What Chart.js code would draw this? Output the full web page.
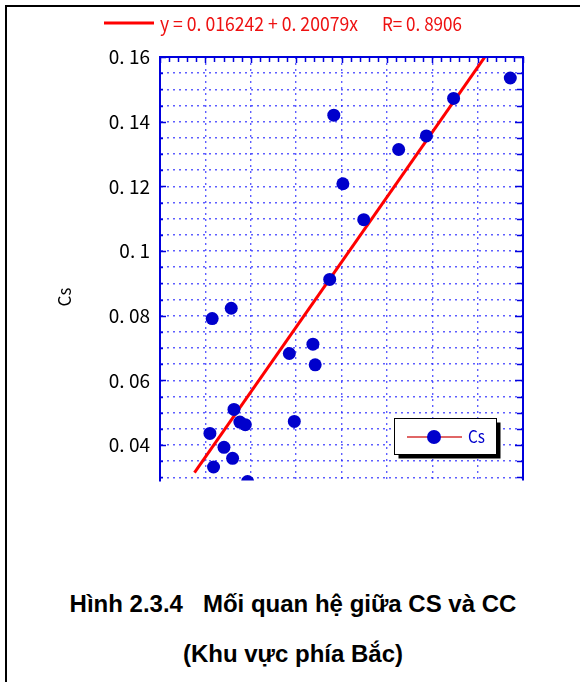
<!DOCTYPE html>
<html><head><meta charset="utf-8">
<script src="https://cdn.jsdelivr.net/npm/chart.js@4.4.0/dist/chart.umd.min.js"></script>
<style>
html,body{margin:0;padding:0;background:#fff;width:580px;height:682px;overflow:hidden;position:relative}
#frame{position:absolute;left:5px;top:5px;width:700px;height:700px;border-left:2px solid #000;border-top:2px solid #000}
#wrap{position:absolute;left:0;top:0;width:580px;height:482px;overflow:hidden}
.cap{position:absolute;left:0;width:586px;text-align:center;font:bold 24px "Liberation Sans",Arial,sans-serif;line-height:50px;white-space:pre;color:#000}
</style></head><body>
<div id="frame"></div>
<div id="wrap"><canvas id="c" width="580" height="502"></canvas></div>
<div class="cap" style="top:579px">Hình 2.3.4   Mối quan hệ giữa CS và CC</div>
<div class="cap" style="top:629px">(Khu vực phía Bắc)</div>
<script>
// ---- data ----
const ccValues = [0.110, 0.115, 0.118, 0.141, 0.157, 0.160, 0.163, 0.176, 0.188, 0.193, 0.285, 0.296, 0.337, 0.342, 0.374, 0.383, 0.403, 0.449, 0.526, 0.587, 0.647, 0.772];
const csValues = [0.0436, 0.0791, 0.0332, 0.0393, 0.0823, 0.0359, 0.0510, 0.0471, 0.0463, 0.0287, 0.0683, 0.0473, 0.0712, 0.0648, 0.0912, 0.1420, 0.1208, 0.1097, 0.1314, 0.1356, 0.1472, 0.1535];
const fitX = [0.076, 0.80];
const fitY = [0.0315, 0.1769];
const yLabelValues = [0.04, 0.06, 0.08, 0.1, 0.12, 0.14, 0.16];
const xGridValues = [0, 0.1, 0.2, 0.3, 0.4, 0.5, 0.6, 0.7, 0.8];
const seriesName = 'Cs';
const yTitle = 'Cs';
const fitLabel = 'y = 0. 016242 + 0. 20079x';
const rLabel = 'R= 0. 8906';

// ---- styles ----
const CJK = '"Noto Sans CJK JP","Noto Sans",sans-serif';
const pointBlue = '#0000cc';
const axisBlue = '#0000dd';
const gridBlue = 'rgba(40,40,255,0.75)';
const yGrid = [];
for (let k = 6; k <= 32; k++) yGrid.push(Math.round(k * 5) / 1000);

function fmt(v){ return String(+v.toFixed(3)).replace('.', '. '); }

function scaledText(ctx, text, x, y, targetW){
  const w = ctx.measureText(text).width;
  ctx.save(); ctx.translate(x, y); ctx.scale(targetW / w, 1); ctx.fillText(text, 0, 0); ctx.restore();
}

const decor = {
  id: 'decor',
  afterDatasetsDraw(chart){
    const {ctx, chartArea: a, scales: {x, y}} = chart;
    ctx.save();
    // frame top & right
    ctx.strokeStyle = axisBlue; ctx.lineWidth = 2;
    ctx.beginPath();
    ctx.moveTo(a.left - 1, a.top); ctx.lineTo(a.right + 1, a.top);
    ctx.moveTo(a.right, a.top); ctx.lineTo(a.right, a.bottom);
    ctx.stroke();
    // inward ticks
    ctx.lineWidth = 1.5;
    ctx.beginPath();
    for (let i = 0; i <= 40; i++) {
      const px = Math.round(x.getPixelForValue(i * 0.02)) + 0.5;
      const len = (i % 5 === 0) ? 6 : 5;
      ctx.moveTo(px, a.top); ctx.lineTo(px, a.top + len);
    }
    yGrid.forEach(v => {
      const py = Math.round(y.getPixelForValue(v)) + 0.5;
      const major = yLabelValues.some(l => Math.abs(l - v) < 1e-9);
      ctx.moveTo(a.left, py); ctx.lineTo(a.left + (major ? 6 : 3), py);
      ctx.moveTo(a.right, py); ctx.lineTo(a.right - (major ? 8 : 6), py);
    });
    ctx.stroke();

    // legend box inside plot
    const bx = 394.5, by = 418.5, bw = 102, bh = 36;
    ctx.fillStyle = '#000';
    ctx.fillRect(bx + 4, by + 4, bw, bh);
    ctx.fillStyle = '#fff';
    ctx.fillRect(bx, by, bw, bh);
    ctx.strokeStyle = '#000'; ctx.lineWidth = 1;
    ctx.strokeRect(bx, by, bw, bh);
    ctx.strokeStyle = '#e06666'; ctx.lineWidth = 2;
    ctx.beginPath(); ctx.moveTo(407, 437); ctx.lineTo(462, 437); ctx.stroke();
    ctx.fillStyle = pointBlue;
    ctx.beginPath(); ctx.arc(434, 437, 7, 0, Math.PI * 2); ctx.fill();
    ctx.font = '17px ' + CJK; ctx.textBaseline = 'alphabetic'; ctx.textAlign = 'left';
    scaledText(ctx, seriesName, 468, 443, 17);

    // top legend (regression)
    ctx.strokeStyle = '#ff0000'; ctx.lineWidth = 3;
    ctx.beginPath(); ctx.moveTo(104, 23); ctx.lineTo(154, 23); ctx.stroke();
    ctx.fillStyle = '#ee1111';
    ctx.font = '19px ' + CJK;
    scaledText(ctx, fitLabel, 160, 30.5, 198);
    scaledText(ctx, rLabel, 382, 30.5, 80);

    // y axis title
    ctx.fillStyle = '#000';
    ctx.font = '17px ' + CJK;
    ctx.translate(64.5, 297); ctx.rotate(-Math.PI / 2);
    ctx.textAlign = 'center'; ctx.textBaseline = 'middle';
    ctx.fillText(yTitle, 0, 0);
    ctx.restore();
  }
};

new Chart(document.getElementById('c'), {
  type: 'scatter',
  data: {
    datasets: [
      { label: seriesName, data: ccValues.map((v, i) => ({x: v, y: csValues[i]})),
        backgroundColor: pointBlue, borderColor: pointBlue, borderWidth: 0,
        pointRadius: 6.5, pointHoverRadius: 6.5, clip: 0, order: 0 },
      { type: 'line', label: 'fit', data: fitX.map((v, i) => ({x: v, y: fitY[i]})),
        borderColor: '#ff0000', borderWidth: 3, pointRadius: 0, fill: false, clip: 0, order: 1 }
    ]
  },
  options: {
    responsive: false, animation: false, devicePixelRatio: 1, events: [],
    layout: { padding: { top: 57, right: 57, bottom: 0, left: 0 } },
    plugins: { legend: { display: false }, tooltip: { enabled: false } },
    scales: {
      x: {
        type: 'linear', min: 0, max: 0.8,
        afterBuildTicks(s){ s.ticks = xGridValues.map(v => ({value: v})); },
        ticks: { display: false },
        grid: { color: gridBlue, lineWidth: 1.4, drawTicks: false },
        border: { display: false, dash: [2, 4] }
      },
      y: {
        type: 'linear', min: 0.029, max: 0.16,
        afterFit(s){ s.width = 160; },
        afterBuildTicks(s){ s.ticks = yGrid.map(v => ({value: v})); },
        ticks: {
          autoSkip: false, padding: 10, color: '#000',
          font: { family: CJK, size: 19 },
          callback(v){ return yLabelValues.some(l => Math.abs(l - v) < 1e-9) ? fmt(v) : ''; }
        },
        grid: { color: gridBlue, lineWidth: 1.4, drawTicks: false },
        border: { display: true, color: axisBlue, width: 2, dash: [2, 4] }
      }
    }
  },
  plugins: [decor]
});
</script>
</body></html>
